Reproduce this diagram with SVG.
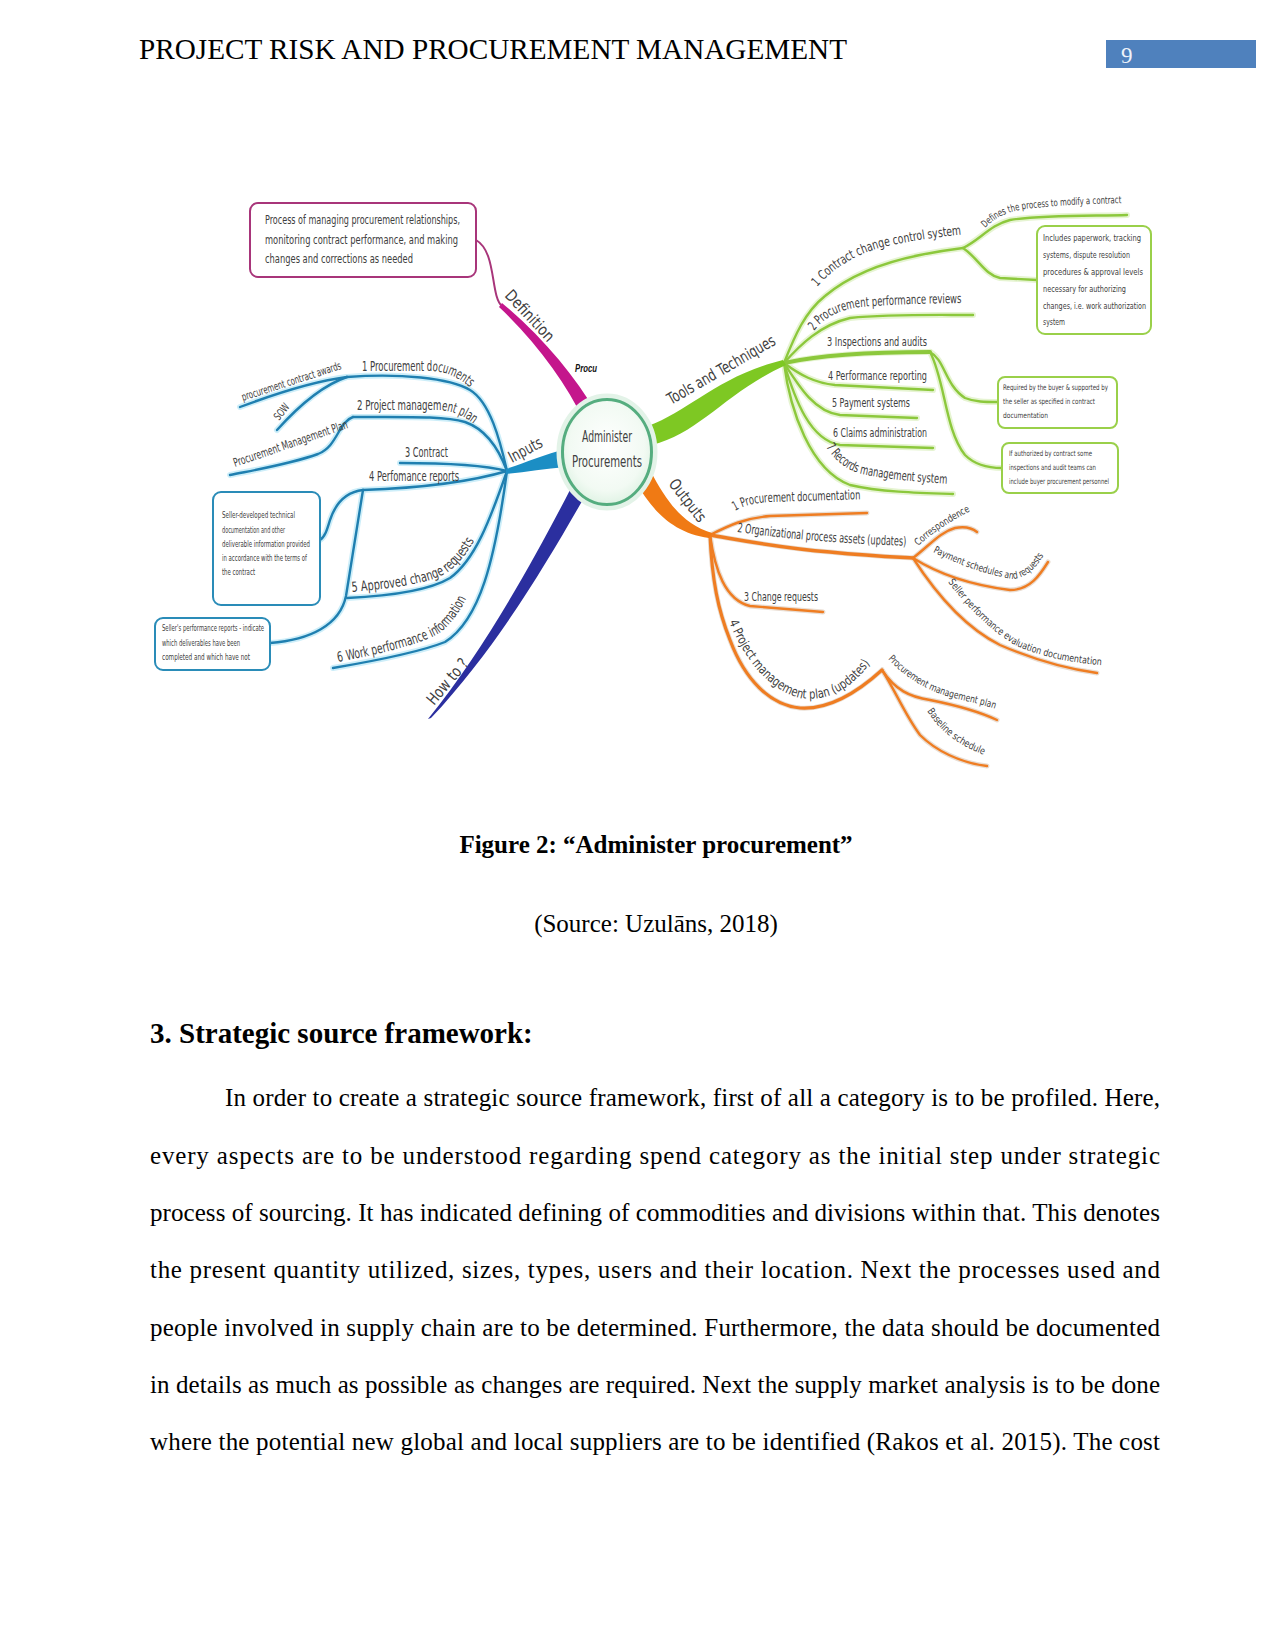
<svg xmlns="http://www.w3.org/2000/svg" width="1275" height="1650" viewBox="0 0 1275 1650">
<style>
.serif{font-family:"Liberation Serif","Times New Roman",serif;fill:#000}
.body{font-size:25px}
.m{font-family:"Liberation Sans Narrow","DejaVu Sans Condensed","Liberation Sans",sans-serif;fill:#404040}
.f16{font-size:16px}.f14{font-size:14px}.f13{font-size:13px}.f12{font-size:12px}.f11{font-size:11px}.f10{font-size:10px}.f9{font-size:9.5px}.f8{font-size:8.3px}.f7{font-size:7.6px}
.gB{fill:none;stroke:#cdeef9;stroke-width:6;stroke-linecap:round}
.lB{fill:none;stroke:#1f7fb0;stroke-width:2.4;stroke-linecap:round}
.gG{fill:none;stroke:#e6f4d2;stroke-width:6;stroke-linecap:round}
.lG{fill:none;stroke:#8cc83c;stroke-width:2.4;stroke-linecap:round}
.gO{fill:none;stroke:#e9ddd2;stroke-width:5;stroke-linecap:round}
.lO{fill:none;stroke:#ef7d22;stroke-width:2.4;stroke-linecap:round}
.boxB{fill:#fff;stroke:#2a8cb8;stroke-width:2}
.boxG{fill:#fff;stroke:#9ad04a;stroke-width:2}
.boxM{fill:#fff;stroke:#a8357a;stroke-width:2}
</style>
<defs>
<radialGradient id="cg" cx="50%" cy="45%" r="60%">
<stop offset="0" stop-color="#ffffff"/><stop offset="0.7" stop-color="#f2faf3"/><stop offset="1" stop-color="#d9f0df"/>
</radialGradient>
<path id="i1" d="M 507 471 C 500 440, 490 402, 470 390 C 450 378, 400 373, 347 377"/>
<path id="i1a" d="M 347 377 C 315 381, 280 392, 240 407"/>
<path id="i1b" d="M 347 377 C 320 386, 295 410, 277 430"/>
<path id="i2" d="M 507 471 C 500 452, 488 430, 465 422 C 445 416, 410 417, 353 417"/>
<path id="i2a" d="M 353 417 C 338 422, 338 446, 318 454 C 290 464, 260 469, 230 475"/>
<path id="i3" d="M 507 471 C 480 464, 440 463, 400 463"/>
<path id="i4" d="M 507 471 C 470 482, 420 488, 363 490"/>
<path id="i4a" d="M 363 490 C 345 492, 335 505, 330 520 C 327 530, 325 537, 320 540"/>
<path id="i4b" d="M 363 490 L 346 596 C 340 625, 310 640, 270 643"/>
<path id="i5" d="M 507 471 C 490 520, 475 560, 450 578 C 430 590, 390 596, 347 598"/>
<path id="i6" d="M 507 471 C 495 560, 480 620, 445 642 C 420 652, 380 660, 333 668"/>
<path id="g1" d="M 784 363 C 795 335, 805 312, 825 296 C 850 275, 885 262, 920 255 C 940 251, 955 249, 963 248"/>
<path id="g1a" d="M 963 248 C 980 240, 990 225, 1010 220 C 1040 215, 1090 216, 1127 215"/>
<path id="g1b" d="M 963 248 C 978 258, 985 275, 1000 278 L 1037 280"/>
<path id="g2" d="M 784 363 C 800 345, 820 325, 850 318 C 890 314, 930 315, 973 315"/>
<path id="g3" d="M 784 363 C 820 355, 880 352, 930 352"/>
<path id="g3a" d="M 930 352 C 945 360, 945 385, 965 398 C 975 402, 985 402, 998 402"/>
<path id="g3b" d="M 930 352 C 945 380, 945 430, 965 455 C 975 465, 990 468, 1002 468"/>
<path id="g4" d="M 784 363 C 800 375, 815 383, 835 385 L 933 390"/>
<path id="g5" d="M 784 363 C 800 388, 815 412, 840 415 L 917 418"/>
<path id="g6" d="M 784 363 C 795 400, 810 440, 840 445 L 933 448"/>
<path id="g7" d="M 784 363 C 790 410, 810 470, 850 485 C 880 492, 920 493, 953 494"/>
<path id="o1" d="M 710 535 C 730 525, 745 518, 770 516 L 867 513"/>
<path id="o2" d="M 710 535 C 740 540, 780 548, 830 552 C 870 556, 895 557, 913 558"/>
<path id="o2a" d="M 913 558 C 930 545, 940 532, 955 528 C 965 526, 972 528, 977 532"/>
<path id="o2b" d="M 913 558 C 940 575, 970 585, 1010 590 C 1030 590, 1040 575, 1048 562"/>
<path id="o2c" d="M 913 558 C 940 600, 970 630, 1000 645 C 1030 658, 1060 668, 1097 673"/>
<path id="o3" d="M 710 535 C 715 570, 725 600, 750 606 L 823 612"/>
<path id="o4" d="M 710 535 C 712 580, 718 610, 730 640 C 745 680, 770 705, 800 708 C 830 710, 860 690, 882 670"/>
<path id="o4a" d="M 882 670 C 895 690, 910 697, 930 700 C 960 706, 980 712, 997 720"/>
<path id="o4b" d="M 882 670 C 895 690, 905 715, 920 735 C 935 750, 960 763, 987 766"/>
<path id="ti1" d="M 362 371 L 432 371 C 450 372, 463 380, 476 393"/>
<path id="ti2" d="M 357 410 L 438 410 C 455 411, 466 417, 478 427"/>
<path id="ti5" d="M 352 592 C 395 588, 425 584, 445 574 C 460 564, 470 550, 482 526"/>
<path id="ti6" d="M 338 662 C 380 654, 415 646, 438 634 C 455 622, 466 603, 480 568"/>
<path id="tg1" d="M 817 287 C 833 269, 853 255, 883 247 C 910 241, 935 237, 968 234"/>
<path id="tg1a" d="M 985 228 C 995 218, 1005 212, 1025 209 C 1060 205, 1090 204, 1128 203"/>
<path id="tg2" d="M 814 331 C 824 318, 838 310, 860 307 C 900 304, 935 303, 975 303"/>
<path id="tg7" d="M 826 447 C 835 460, 846 470, 862 474 C 890 480, 920 482, 952 484"/>
<path id="to1" d="M 735 511 C 745 505, 755 503, 770 502 L 868 499"/>
<path id="to2" d="M 737 532 C 780 538, 830 543, 910 546"/>
<path id="to2a" d="M 918 546 C 935 531, 950 521, 980 506"/>
<path id="to2b" d="M 933 552 C 958 565, 985 574, 1012 579 C 1028 578, 1038 566, 1048 548"/>
<path id="to2c" d="M 948 582 C 970 610, 990 630, 1015 645 C 1040 657, 1075 664, 1115 666"/>
<path id="to4" d="M 729 622 C 744 658, 768 690, 800 698 C 830 702, 855 688, 878 652"/>
<path id="to4a" d="M 888 659 C 905 677, 925 690, 950 697 C 970 702, 985 705, 998 710"/>
<path id="to4b" d="M 927 711 C 940 730, 955 745, 990 757"/>
</defs>

<rect width="1275" height="1650" fill="#fff"/>

<g id="header">
<text class="serif" x="139" y="59" font-size="29" textLength="708" lengthAdjust="spacingAndGlyphs">PROJECT RISK AND PROCUREMENT MANAGEMENT</text>
<rect x="1106" y="40" width="150" height="28" fill="#4f81bd"/>
<text x="1121" y="63" font-family="Liberation Serif, serif" font-size="23" fill="#eef3fa">9</text>
</g>

<g id="connectors">
<g class="gB"><use href="#i1"/><use href="#i1a"/><use href="#i1b"/><use href="#i2"/><use href="#i2a"/><use href="#i3"/><use href="#i4"/><use href="#i4a"/><use href="#i4b"/><use href="#i5"/><use href="#i6"/></g>
<g class="lB"><use href="#i1"/><use href="#i1a"/><use href="#i1b"/><use href="#i2"/><use href="#i2a"/><use href="#i3"/><use href="#i4"/><use href="#i4a"/><use href="#i4b"/><use href="#i5"/><use href="#i6"/></g>
<g class="gG"><use href="#g1"/><use href="#g1a"/><use href="#g1b"/><use href="#g2"/><use href="#g3"/><use href="#g3a"/><use href="#g3b"/><use href="#g4"/><use href="#g5"/><use href="#g6"/><use href="#g7"/></g>
<g class="lG"><use href="#g1"/><use href="#g1a"/><use href="#g1b"/><use href="#g2"/><use href="#g3" stroke-width="4"/><use href="#g3a"/><use href="#g3b"/><use href="#g4"/><use href="#g5"/><use href="#g6"/><use href="#g7"/></g>
<g class="gO"><use href="#o1"/><use href="#o2"/><use href="#o2a"/><use href="#o2b"/><use href="#o2c"/><use href="#o3"/><use href="#o4"/><use href="#o4a"/><use href="#o4b"/></g>
<g class="lO"><use href="#o1"/><use href="#o2" stroke-width="3.5"/><use href="#o2a"/><use href="#o2b"/><use href="#o2c"/><use href="#o3"/><use href="#o4" stroke-width="3.2"/><use href="#o4a"/><use href="#o4b"/></g>
<path d="M 502 306 C 490 296, 497 252, 476 240" fill="none" stroke="#a8357a" stroke-width="2"/>
<path id="br-def" d="M 596 412 C 575 377, 544 338, 502 303 L 499 307 C 537 343, 566 383, 584 421 Z" fill="#c4168c"/>
<path id="br-in" d="M 566 449 C 545 454, 525 463, 506 469 L 506 474 C 525 472, 545 469, 566 467 Z" fill="#1b8ec4"/>
<path id="br-tools" d="M 648 426 C 690 411, 716 377, 783 360 L 786 365 C 726 392, 700 433, 652 445 Z" fill="#7ec823"/>
<path id="br-out" d="M 651 472 C 666 500, 682 524, 712 533 L 709 538 C 670 533, 650 506, 637 484 Z" fill="#f07a14"/>
<path id="br-how" d="M 585 496 C 545 566, 495 650, 431 718 L 428 719 C 484 650, 534 560, 571 488 Z" fill="#2b2f9f"/>
</g>

<g id="center">
<ellipse cx="607" cy="452" rx="48" ry="56" fill="none" stroke="#e3f3e8" stroke-width="5"/>
<ellipse cx="607" cy="452" rx="44.5" ry="52.5" fill="url(#cg)" stroke="#55ad7f" stroke-width="3"/>
<text class="m f16" x="607" y="442" text-anchor="middle" textLength="50" lengthAdjust="spacingAndGlyphs">Administer</text>
<text class="m f16" x="607" y="467" text-anchor="middle" textLength="70" lengthAdjust="spacingAndGlyphs">Procurements</text>
</g>

<g id="definition">
<text class="m f16" transform="translate(504,296) rotate(47)" textLength="64" lengthAdjust="spacingAndGlyphs">Definition</text>
<rect class="boxM" x="250" y="203" width="226" height="74" rx="8"/>
<text class="m f12" x="265" y="224" textLength="195" lengthAdjust="spacingAndGlyphs">Process of managing procurement relationships,</text>
<text class="m f12" x="265" y="244" textLength="193" lengthAdjust="spacingAndGlyphs">monitoring contract performance, and making</text>
<text class="m f12" x="265" y="263" textLength="148" lengthAdjust="spacingAndGlyphs">changes and corrections as needed</text>
</g>
<g id="procu"><text x="575" y="372" font-family="Liberation Sans, sans-serif" font-size="11" font-weight="bold" font-style="italic" fill="#111" textLength="22" lengthAdjust="spacingAndGlyphs">Procu</text></g>

<g id="inputs">
<text class="m f16" transform="translate(512,463) rotate(-28)" textLength="36" lengthAdjust="spacingAndGlyphs">Inputs</text>
</g>
<g id="in-1"><text class="m f14"><textPath href="#ti1" textLength="112" lengthAdjust="spacingAndGlyphs">1 Procurement documents</textPath></text></g>
<g id="in-1a"><text class="m f11" transform="translate(243,401) rotate(-18)" textLength="104" lengthAdjust="spacingAndGlyphs">procurement contract awards</text></g>
<g id="in-1b"><text class="m f11" transform="translate(279,421) rotate(-52)" textLength="18" lengthAdjust="spacingAndGlyphs">SOW</text></g>
<g id="in-2"><text class="m f14"><textPath href="#ti2" textLength="120" lengthAdjust="spacingAndGlyphs">2 Project management plan</textPath></text></g>
<g id="in-2a"><text class="m f12" transform="translate(235,467) rotate(-19)" textLength="120" lengthAdjust="spacingAndGlyphs">Procurement Management Plan</text></g>
<g id="in-3"><text class="m f14" x="405" y="457" textLength="43" lengthAdjust="spacingAndGlyphs">3 Contract</text></g>
<g id="in-4"><text class="m f14" x="369" y="481" textLength="90" lengthAdjust="spacingAndGlyphs">4 Perfomance reports</text></g>
<g id="in-4a">
<rect class="boxB" x="213" y="492" width="107" height="113" rx="8"/>
<text class="m f8" x="222" y="518" textLength="73" lengthAdjust="spacingAndGlyphs">Seller-developed technical</text>
<text class="m f8" x="222" y="533" textLength="63" lengthAdjust="spacingAndGlyphs">documentation and other</text>
<text class="m f8" x="222" y="547" textLength="88" lengthAdjust="spacingAndGlyphs">deliverable information provided</text>
<text class="m f8" x="222" y="561" textLength="85" lengthAdjust="spacingAndGlyphs">in accordance with the terms of</text>
<text class="m f8" x="222" y="575" textLength="33" lengthAdjust="spacingAndGlyphs">the contract</text>
</g>
<g id="in-4b">
<rect class="boxB" x="155" y="618" width="115" height="52" rx="8"/>
<text class="m f8" x="162" y="631" textLength="102" lengthAdjust="spacingAndGlyphs">Seller's performance reports - indicate</text>
<text class="m f8" x="162" y="646" textLength="78" lengthAdjust="spacingAndGlyphs">which deliverables have been</text>
<text class="m f8" x="162" y="660" textLength="88" lengthAdjust="spacingAndGlyphs">completed and which have not</text>
</g>
<g id="in-5"><text class="m f14"><textPath href="#ti5" textLength="140" lengthAdjust="spacingAndGlyphs">5 Approved change requests</textPath></text></g>
<g id="in-6"><text class="m f14"><textPath href="#ti6" textLength="150" lengthAdjust="spacingAndGlyphs">6 Work performance information</textPath></text></g>
<g id="howto"><text class="m f16" transform="translate(434,706) rotate(-50)" textLength="55" lengthAdjust="spacingAndGlyphs">How to ?</text></g>

<g id="tools"><text class="m f16" transform="translate(671,405) rotate(-30)" textLength="122" lengthAdjust="spacingAndGlyphs">Tools and Techniques</text></g>
<g id="tt-1"><text class="m f13"><textPath href="#tg1" textLength="158" lengthAdjust="spacingAndGlyphs">1 Contract change control system</textPath></text></g>
<g id="tt-1a"><text class="m f10"><textPath href="#tg1a" textLength="142" lengthAdjust="spacingAndGlyphs">Defines the process to modify a contract</textPath></text></g>
<g id="tt-1b">
<rect class="boxG" x="1037" y="226" width="114" height="108" rx="8"/>
<text class="m f9" x="1043" y="241" textLength="98" lengthAdjust="spacingAndGlyphs">Includes paperwork, tracking</text>
<text class="m f9" x="1043" y="258" textLength="87" lengthAdjust="spacingAndGlyphs">systems, dispute resolution</text>
<text class="m f9" x="1043" y="275" textLength="100" lengthAdjust="spacingAndGlyphs">procedures &amp; approval levels</text>
<text class="m f9" x="1043" y="292" textLength="83" lengthAdjust="spacingAndGlyphs">necessary for authorizing</text>
<text class="m f9" x="1043" y="309" textLength="103" lengthAdjust="spacingAndGlyphs">changes, i.e. work authorization</text>
<text class="m f9" x="1043" y="325" textLength="22" lengthAdjust="spacingAndGlyphs">system</text>
</g>
<g id="tt-2"><text class="m f13"><textPath href="#tg2" textLength="155" lengthAdjust="spacingAndGlyphs">2 Procurement performance reviews</textPath></text></g>
<g id="tt-3"><text class="m f13" x="827" y="346" textLength="100" lengthAdjust="spacingAndGlyphs">3 Inspections and audits</text></g>
<g id="tt-3a">
<rect class="boxG" x="998" y="377" width="119" height="51" rx="7"/>
<text class="m f7" x="1003" y="390" textLength="105" lengthAdjust="spacingAndGlyphs">Required by the buyer &amp; supported by</text>
<text class="m f7" x="1003" y="404" textLength="92" lengthAdjust="spacingAndGlyphs">the seller as specified in contract</text>
<text class="m f7" x="1003" y="418" textLength="45" lengthAdjust="spacingAndGlyphs">documentation</text>
</g>
<g id="tt-3b">
<rect class="boxG" x="1002" y="443" width="116" height="50" rx="7"/>
<text class="m f7" x="1009" y="456" textLength="83" lengthAdjust="spacingAndGlyphs">If authorized by contract some</text>
<text class="m f7" x="1009" y="470" textLength="87" lengthAdjust="spacingAndGlyphs">inspections and audit teams can</text>
<text class="m f7" x="1009" y="484" textLength="100" lengthAdjust="spacingAndGlyphs">include buyer procurement personnel</text>
</g>
<g id="tt-4"><text class="m f13" x="828" y="380" textLength="99" lengthAdjust="spacingAndGlyphs">4 Performance reporting</text></g>
<g id="tt-5"><text class="m f13" x="832" y="407" textLength="78" lengthAdjust="spacingAndGlyphs">5 Payment systems</text></g>
<g id="tt-6"><text class="m f13" x="833" y="437" textLength="94" lengthAdjust="spacingAndGlyphs">6 Claims administration</text></g>
<g id="tt-7"><text class="m f13"><textPath href="#tg7" textLength="132" lengthAdjust="spacingAndGlyphs">7 Records management system</textPath></text></g>

<g id="outputs"><text class="m f16" transform="translate(668,484) rotate(52)" textLength="50" lengthAdjust="spacingAndGlyphs">Outputs</text></g>
<g id="out-1"><text class="m f13"><textPath href="#to1" textLength="127" lengthAdjust="spacingAndGlyphs">1 Procurement documentation</textPath></text></g>
<g id="out-2"><text class="m f13"><textPath href="#to2" textLength="170" lengthAdjust="spacingAndGlyphs">2 Organizational process assets (updates)</textPath></text></g>
<g id="out-2a"><text class="m f10"><textPath href="#to2a" textLength="63" lengthAdjust="spacingAndGlyphs">Correspondence</textPath></text></g>
<g id="out-2b"><text class="m f10"><textPath href="#to2b" textLength="125" lengthAdjust="spacingAndGlyphs">Payment schedules and requests</textPath></text></g>
<g id="out-2c"><text class="m f10"><textPath href="#to2c" textLength="182" lengthAdjust="spacingAndGlyphs">Seller performance evaluation documentation</textPath></text></g>
<g id="out-3"><text class="m f13" x="744" y="601" textLength="74" lengthAdjust="spacingAndGlyphs">3 Change requests</text></g>
<g id="out-4"><text class="m f13"><textPath href="#to4" textLength="190" lengthAdjust="spacingAndGlyphs">4 Project management plan (updates)</textPath></text></g>
<g id="out-4a"><text class="m f10"><textPath href="#to4a" textLength="120" lengthAdjust="spacingAndGlyphs">Procurement management plan</textPath></text></g>
<g id="out-4b"><text class="m f10"><textPath href="#to4b" textLength="73" lengthAdjust="spacingAndGlyphs">Baseline schedule</textPath></text></g>

<g id="caption">
<text class="serif" x="656" y="853" font-size="25" font-weight="bold" text-anchor="middle">Figure 2: “Administer procurement”</text>
<text class="serif" x="656" y="932" font-size="25" text-anchor="middle">(Source: Uzulāns, 2018)</text>
</g>
<g id="section">
<text class="serif" x="150" y="1043" font-size="29" font-weight="bold">3. Strategic source framework:</text>
<text class="serif body" x="225" y="1106" textLength="935" lengthAdjust="spacing">In order to create a strategic source framework, first of all a category is to be profiled. Here,</text>
<text class="serif body" x="150" y="1164" textLength="1010" lengthAdjust="spacing">every aspects are to be understood regarding spend category as the initial step under strategic</text>
<text class="serif body" x="150" y="1221" textLength="1010" lengthAdjust="spacing">process of sourcing. It has indicated defining of commodities and divisions within that. This denotes</text>
<text class="serif body" x="150" y="1278" textLength="1010" lengthAdjust="spacing">the present quantity utilized, sizes, types, users and their location. Next the processes used and</text>
<text class="serif body" x="150" y="1336" textLength="1010" lengthAdjust="spacing">people involved in supply chain are to be determined. Furthermore, the data should be documented</text>
<text class="serif body" x="150" y="1393" textLength="1010" lengthAdjust="spacing">in details as much as possible as changes are required. Next the supply market analysis is to be done</text>
<text class="serif body" x="150" y="1450" textLength="1010" lengthAdjust="spacing">where the potential new global and local suppliers are to be identified (Rakos et al. 2015). The cost</text>
</g>
</svg>
